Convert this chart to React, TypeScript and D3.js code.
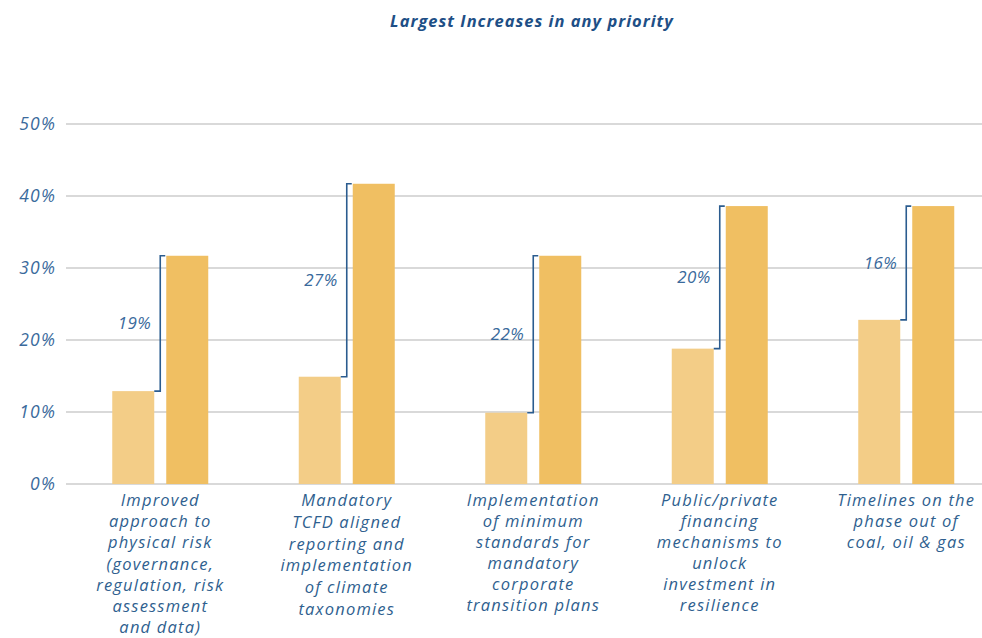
import React from "react";
import * as d3 from "d3";

const categories: string[][] = [
  ["Improved", "approach to", "physical risk", "(governance,", "regulation, risk", "assessment", "and data)"],
  ["Mandatory", "TCFD aligned", "reporting and", "implementation", "of climate", "taxonomies"],
  ["Implementation", "of minimum", "standards for", "mandatory", "corporate", "transition plans"],
  ["Public/private", "financing", "mechanisms to", "unlock", "investment in", "resilience"],
  ["Timelines on the", "phase out of", "coal, oil & gas"],
];
const before: number[] = [12.9, 14.9, 9.9, 18.8, 22.8];
const after: number[] = [31.7, 41.7, 31.7, 38.6, 38.6];
const increaseLabels: string[] = ["19%", "27%", "22%", "20%", "16%"];
const yTicks: number[] = [0, 10, 20, 30, 40, 50];
const title = "Largest Increases in any priority";

const W = 982;
const H = 638;
const FONT = "'Open Sans', Lato, sans-serif";
const lineGaps = [21.2, 21.8, 21, 21, 21];

export default function App() {
  const idx = categories.map((_, i) => i);
  const x = d3.scaleBand<number>().domain(idx).range([67, 67 + 5 * 186.5]).padding(0);
  const xs = d3.scaleBand<string>().domain(["b", "a"]).range([0, 96]).paddingInner(12 / 54).paddingOuter(0);
  const y = d3.scaleLinear().domain([0, 50]).range([484, 124]);
  const off = (x.bandwidth() - 96) / 2;

  return (
    <svg width={W} height={H} style={{ position: "absolute", left: 0, top: 0, background: "#fff" }}>
      <rect width={W} height={H} fill="#fff" />
      <text x={532} y={26.5} textAnchor="middle" fontFamily={FONT} fontStyle="italic" fontWeight={700} fontSize={16.5} fill="#1E4F86" letterSpacing={1}>
        {title}
      </text>
      {yTicks.map((t) => (
        <g key={t}>
          <line x1={66} x2={982} y1={y(t)} y2={y(t)} stroke="#d9d9d9" strokeWidth={2} />
          <text x={56} y={y(t) + 6} textAnchor="end" fontFamily={FONT} fontStyle="italic" fontSize={17.5} fill="#3A6A9C" letterSpacing={1.2}>
            {t}%
          </text>
        </g>
      ))}
      {idx.map((i) => {
        const gx = (x(i) as number) + off;
        const bx = gx + (xs("b") as number);
        const ax = gx + (xs("a") as number);
        const bw = xs.bandwidth();
        const cx = gx + 48;
        const yb = y(before[i]);
        const ya = y(after[i]);
        return (
          <g key={i}>
            <rect x={bx} y={yb} width={bw} height={y(0) - yb} fill="#F3CD87" />
            <rect x={ax} y={ya} width={bw} height={y(0) - ya} fill="#F0BF62" />
            <path d={`M${bx + bw},${yb}H${cx}V${ya}H${cx + 5}`} fill="none" stroke="#2B5C8F" strokeWidth={1.6} />
            <text x={cx - 9} y={(yb + ya) / 2 + 6} textAnchor="end" fontFamily={FONT} fontStyle="italic" fontSize={17} fill="#3A6A9C" letterSpacing={0.4}>
              {increaseLabels[i]}
            </text>
            <text textAnchor="middle" fontFamily={FONT} fontStyle="italic" fontSize={16.5} fill="#2F5F8F" letterSpacing={1.2}>
              {categories[i].map((ln, k) => (
                <tspan key={k} x={cx} y={506 + k * lineGaps[i]}>
                  {ln}
                </tspan>
              ))}
            </text>
          </g>
        );
      })}
    </svg>
  );
}
